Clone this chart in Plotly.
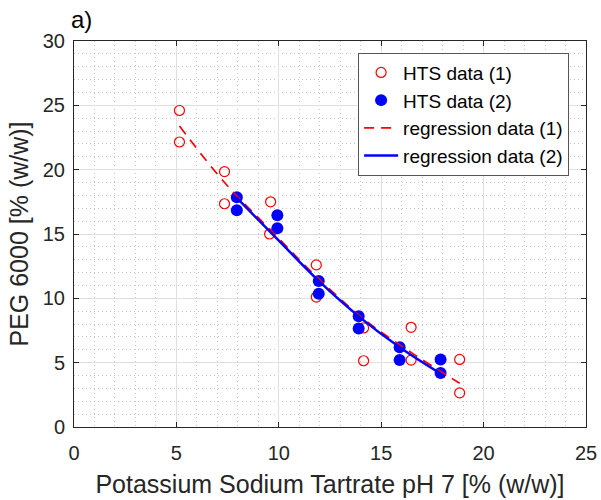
import plotly.graph_objects as go

# HTS data (1) - red open circles
hts1_x = [5.15, 5.15, 7.35, 7.35, 9.6, 9.55, 11.83, 11.83, 14.14, 14.14, 16.46, 16.46, 18.83, 18.83]
hts1_y = [24.6, 22.15, 19.85, 17.35, 17.5, 15.0, 12.6, 10.1, 7.7, 5.15, 7.75, 5.2, 5.25, 2.65]

# HTS data (2) - blue filled circles
hts2_x = [7.95, 7.95, 9.93, 9.93, 11.95, 11.95, 13.9, 13.9, 15.9, 15.9, 17.9, 17.9]
hts2_y = [17.85, 16.85, 16.45, 15.45, 11.35, 10.35, 8.6, 7.65, 6.2, 5.2, 5.25, 4.2]

# regression data (1) - red dashed
reg1_x = [5.15, 7.35, 9.6, 11.83, 14.14, 16.46, 18.83]
reg1_y = [23.4, 19.0, 15.3, 11.7, 8.4, 5.8, 3.4]

# regression data (2) - blue solid
reg2_x = [7.95, 9.93, 11.95, 13.9, 15.9, 17.9]
reg2_y = [17.8, 14.6, 11.35, 8.6, 6.2, 4.15]

x_ticks = [0, 5, 10, 15, 20, 25]
y_ticks = [0, 5, 10, 15, 20, 25, 30]

FONT = "Liberation Sans, Arial, sans-serif"
AX = "#262626"

fig = go.Figure()
fig.add_trace(go.Scatter(x=hts1_x, y=hts1_y, mode="markers", name="HTS data (1)",
                         marker=dict(symbol="circle-open", size=10, color="#ff0000",
                                     line=dict(width=1.2, color="#ff0000"))))
fig.add_trace(go.Scatter(x=hts2_x, y=hts2_y, mode="markers", name="HTS data (2)",
                         marker=dict(symbol="circle", size=12, color="#0000ff")))
fig.add_trace(go.Scatter(x=reg1_x, y=reg1_y, mode="lines", name="regression data (1)",
                         line=dict(color="#ff0000", width=1.7, dash="10px,7px", shape="spline")))
fig.add_trace(go.Scatter(x=reg2_x, y=reg2_y, mode="lines", name="regression data (2)",
                         line=dict(color="#0000ff", width=2.5, shape="spline")))

axis_common = dict(
    showline=True, linecolor=AX, linewidth=1, mirror="allticks",
    ticks="inside", ticklen=5, tickcolor=AX, tickwidth=1,
    showgrid=True, gridcolor="#e0e0e0", gridwidth=1,
    zeroline=False,
    tickfont=dict(family=FONT, size=20, color=AX),
    minor=dict(dtick=1, showgrid=True, gridcolor="#c8c8c8", griddash="1px,3px", gridwidth=1, ticks=""),
)

fig.update_layout(
    width=601, height=500,
    margin=dict(l=74, r=15, t=41, b=73, autoexpand=False),
    paper_bgcolor="white", plot_bgcolor="white",
    font=dict(family=FONT, color=AX),
    showlegend=True,
    legend=dict(x=0.967, y=0.97, xanchor="right", yanchor="top",
                bgcolor="white", bordercolor="#555555", borderwidth=1,
                font=dict(family=FONT, size=19, color="#000000"),
                tracegroupgap=0, itemwidth=34),
    xaxis=dict(range=[0, 25], tickmode="array", tickvals=x_ticks,
               ticklabelstandoff=8,
               title=dict(text="Potassium Sodium Tartrate pH 7 [% (w/w)]",
                          font=dict(family=FONT, size=25, color=AX), standoff=12),
               **axis_common),
    yaxis=dict(range=[0, 30], tickmode="array", tickvals=y_ticks,
               title=dict(text="PEG 6000 [% (w/w)]",
                          font=dict(family=FONT, size=25, color=AX), standoff=7),
               ticklabelstandoff=4,
               **axis_common),
    annotations=[dict(text="a)", xref="paper", yref="paper", x=0, y=1, xshift=-5, yshift=6,
                      xanchor="left", yanchor="bottom", showarrow=False,
                      font=dict(family=FONT, size=24, color="#000000"))],
)

fig.write_html("out.html")
